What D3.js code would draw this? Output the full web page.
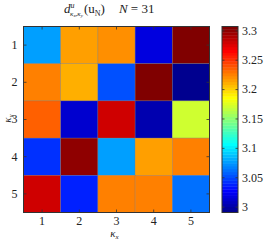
<!DOCTYPE html>
<html>
<head>
<meta charset="utf-8">
<script src="https://cdn.jsdelivr.net/npm/d3@7"></script>
<style>
  html, body { margin: 0; padding: 0; background: #fff; }
  svg { display: block; }
  text { font-family: "Liberation Serif", "DejaVu Serif", serif; fill: #222; }
</style>
</head>
<body>
<svg id="chart" width="266" height="240"></svg>
<script>
// ---- data ----
const kxLabels = [1, 2, 3, 4, 5];
const kyLabels = [1, 2, 3, 4, 5];
// rows: kappa_y = 1..5, columns: kappa_x = 1..5
const row1 = [3.076, 3.214, 3.218, 3.018, 3.3065];
const row2 = [3.226, 3.211, 3.051, 3.3025, 2.990];
const row3 = [3.233, 3.010, 3.278, 3.003, 3.170];
const row4 = [3.042, 3.300, 3.075, 3.215, 3.226];
const row5 = [3.281, 3.036, 3.226, 3.226, 3.060];
const rows = [row1, row2, row3, row4, row5];
const cbarTicks = [3, 3.05, 3.1, 3.15, 3.2, 3.25, 3.3];
const cbarTickLabels = ["3", "3.05", "3.1", "3.15", "3.2", "3.25", "3.3"];
const titleN = 31;

// ---- MATLAB-like jet(64) ----
function jet(m) {
  const n = Math.ceil(m / 4);
  const u = [];
  for (let i = 1; i <= n; i++) u.push(i / n);
  for (let i = 1; i <= n - 1; i++) u.push(1);
  for (let i = n; i >= 1; i--) u.push(i / n);
  const gOff = Math.ceil(n / 2) - (m % 4 === 1 ? 1 : 0);
  const J = Array.from({length: m}, () => [0, 0, 0]);
  for (let k = 0; k < u.length; k++) {
    const g = gOff + k + 1, r = g + n, b = g - n;
    if (r >= 1 && r <= m) J[r - 1][0] = u[k];
    if (g >= 1 && g <= m) J[g - 1][1] = u[k];
    if (b >= 1 && b <= m) J[b - 1][2] = u[k];
  }
  return J.map(c => d3.rgb(c[0] * 255, c[1] * 255, c[2] * 255).toString());
}
const cmap = jet(64);
const allVals = rows.flat();
const vmin = d3.min(allVals), vmax = d3.max(allVals);
function colorOf(v) {
  let idx = Math.floor((v - vmin) / (vmax - vmin) * cmap.length);
  idx = Math.max(0, Math.min(cmap.length - 1, idx));
  return cmap[idx];
}

// ---- layout ----
const svg = d3.select("#chart");
const plot = {x: 23.5, y: 26.5, w: 186, h: 186};
const cbar = {x: 222, y: 26.5, w: 16, h: 186};

const x = d3.scaleBand().domain(kxLabels).range([plot.x, plot.x + plot.w]).paddingInner(0).paddingOuter(0);
const y = d3.scaleBand().domain(kyLabels).range([plot.y, plot.y + plot.h]).paddingInner(0).paddingOuter(0);

const cells = [];
rows.forEach((r, i) => r.forEach((v, j) => cells.push({kx: kxLabels[j], ky: kyLabels[i], v})));

svg.append("g").selectAll("rect").data(cells).join("rect")
  .attr("x", d => x(d.kx)).attr("y", d => y(d.ky))
  .attr("width", x.bandwidth()).attr("height", y.bandwidth())
  .attr("fill", d => colorOf(d.v))
  .attr("stroke", "#777").attr("stroke-width", 0.5).attr("stroke-opacity", 0.6);

// axes (ticks inside, MATLAB style)
const gx = svg.append("g").attr("transform", `translate(0,${plot.y + plot.h})`)
  .call(d3.axisBottom(x).tickSizeInner(-3).tickSizeOuter(0).tickPadding(4));
const gy = svg.append("g").attr("transform", `translate(${plot.x},0)`)
  .call(d3.axisLeft(y).tickSizeInner(-3).tickSizeOuter(0).tickPadding(6));
const gxt = svg.append("g").attr("transform", `translate(0,${plot.y})`)
  .call(d3.axisTop(x).tickSizeInner(-3).tickSizeOuter(0).tickFormat(""));
const gyr = svg.append("g").attr("transform", `translate(${plot.x + plot.w},0)`)
  .call(d3.axisRight(y).tickSizeInner(-3).tickSizeOuter(0).tickFormat(""));
[gx, gy, gxt, gyr].forEach(g => {
  g.select(".domain").remove();
  g.selectAll("line").attr("stroke", "#333").attr("stroke-width", 0.8);
  g.selectAll("text").attr("font-family", "Liberation Serif, DejaVu Serif, serif")
    .attr("font-size", 12).attr("fill", "#222");
});
svg.append("rect").attr("x", plot.x).attr("y", plot.y).attr("width", plot.w).attr("height", plot.h)
  .attr("fill", "none").attr("stroke", "#333").attr("stroke-width", 1);

// axis labels
const xl = svg.append("text").attr("x", plot.x + plot.w / 2 - 2).attr("y", 237)
  .attr("text-anchor", "middle").attr("font-size", 11);
xl.append("tspan").attr("font-style", "italic").text("κ");
xl.append("tspan").attr("font-style", "italic").attr("font-size", 7).attr("dy", 1.5).text("x");

const yl = svg.append("text").attr("transform", `translate(11,${plot.y + plot.h / 2 - 1}) rotate(-90)`)
  .attr("text-anchor", "middle").attr("font-size", 11);
yl.append("tspan").attr("font-style", "italic").text("κ");
yl.append("tspan").attr("font-style", "italic").attr("font-size", 7).attr("dy", 1.5).text("y");

// title
const t = svg.append("text").attr("x", 64).attr("y", 12.5).attr("font-size", 13);
t.append("tspan").attr("font-style", "italic").text("d");
t.append("tspan").attr("font-style", "italic").attr("font-size", 8).attr("dy", -5).text("u");
t.append("tspan").attr("font-style", "italic").attr("font-size", 7).attr("dx", -4.5).attr("dy", 8).text("κ");
t.append("tspan").attr("font-style", "italic").attr("font-size", 5).attr("dy", 1.5).text("x");
t.append("tspan").attr("font-size", 7).attr("dy", -1.5).text(",");
t.append("tspan").attr("font-style", "italic").attr("font-size", 7).text("κ");
t.append("tspan").attr("font-style", "italic").attr("font-size", 5).attr("dy", 1.5).text("y");
t.append("tspan").attr("font-size", 13).attr("dy", -4.5).attr("dx", 1).text("(u");
t.append("tspan").attr("font-size", 8).attr("dy", 3).text("N");
t.append("tspan").attr("font-size", 13).attr("dy", -3).text(")");
t.append("tspan").attr("font-style", "italic").attr("dx", 14).text("N");
t.append("tspan").text(" = " + titleN);

// colorbar
const cy = d3.scaleLinear().domain([vmin, vmax]).range([cbar.y + cbar.h, cbar.y]);
const bandH = cbar.h / cmap.length;
svg.append("g").selectAll("rect").data(cmap).join("rect")
  .attr("x", cbar.x).attr("width", cbar.w)
  .attr("y", (c, i) => cbar.y + cbar.h - (i + 1) * bandH)
  .attr("height", bandH + 0.4)
  .attr("fill", c => c);
const gc = svg.append("g").attr("transform", `translate(${cbar.x + cbar.w},0)`)
  .call(d3.axisRight(cy).tickValues(cbarTicks).tickFormat((d, i) => cbarTickLabels[i])
    .tickSizeInner(-2.5).tickSizeOuter(0).tickPadding(4));
gc.select(".domain").remove();
gc.selectAll("line").attr("stroke", "#333").attr("stroke-width", 0.8);
gc.selectAll("text").attr("font-family", "Liberation Serif, DejaVu Serif, serif")
  .attr("font-size", 12).attr("fill", "#222");
const gcl = svg.append("g").attr("transform", `translate(${cbar.x},0)`)
  .call(d3.axisLeft(cy).tickValues(cbarTicks).tickFormat("").tickSizeInner(-2.5).tickSizeOuter(0));
gcl.select(".domain").remove();
gcl.selectAll("line").attr("stroke", "#333").attr("stroke-width", 0.8);
svg.append("rect").attr("x", cbar.x).attr("y", cbar.y).attr("width", cbar.w).attr("height", cbar.h)
  .attr("fill", "none").attr("stroke", "#333").attr("stroke-width", 1);
</script>
</body>
</html>
